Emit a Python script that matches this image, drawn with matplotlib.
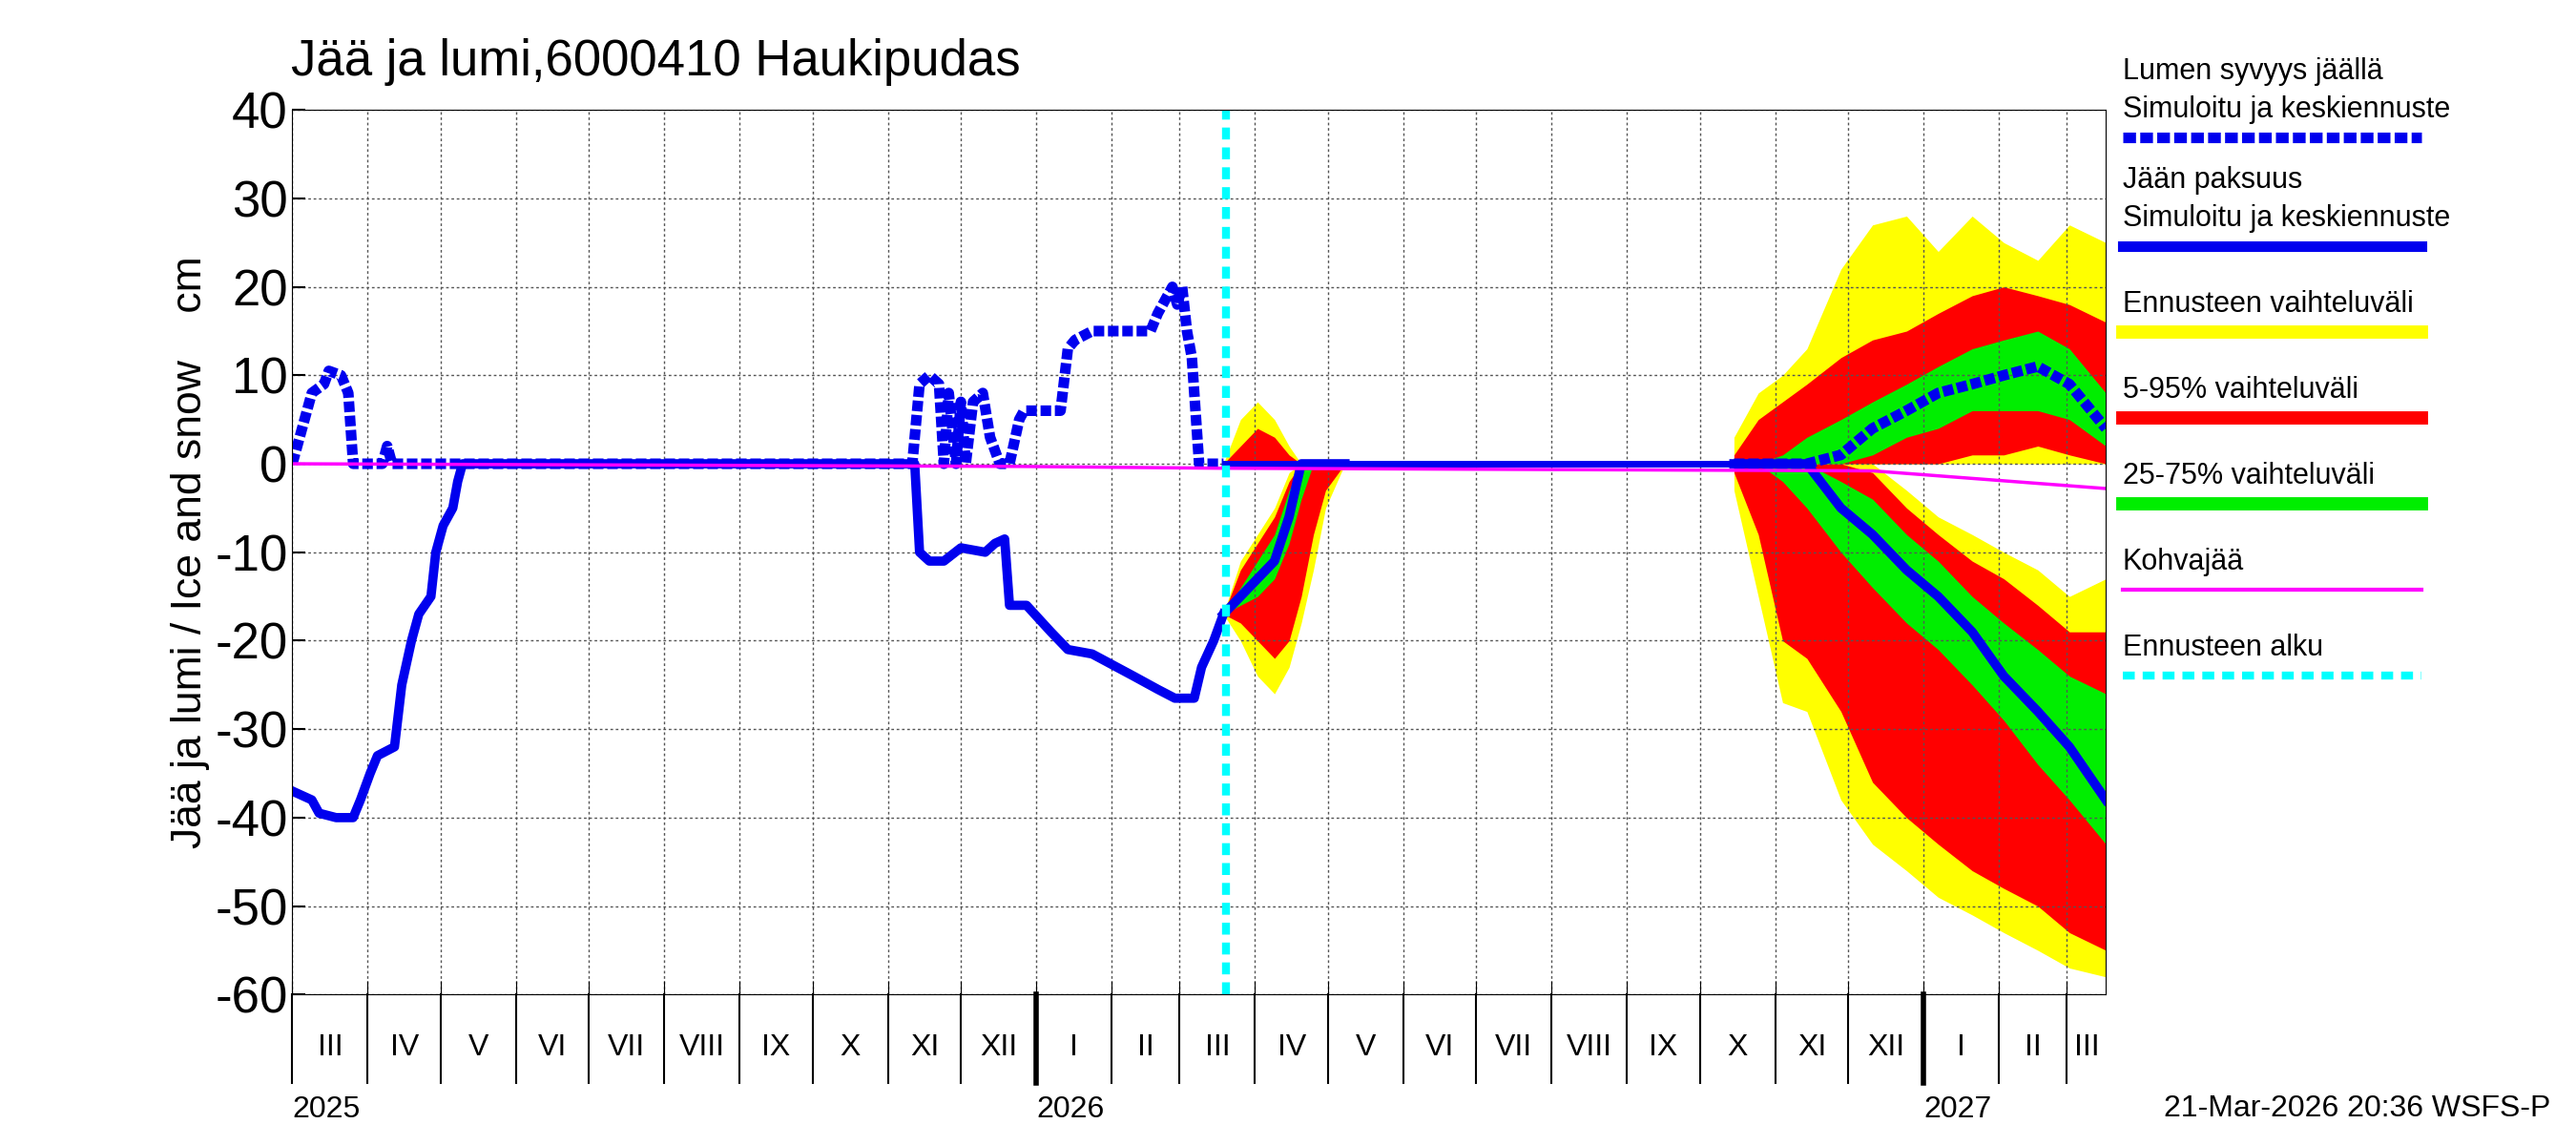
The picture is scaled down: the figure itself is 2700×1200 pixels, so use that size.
import numpy as np
import pandas as pd
import matplotlib
matplotlib.use("Agg")
import matplotlib.pyplot as plt

plt.rcParams['font.family'] = ['Liberation Sans', 'DejaVu Sans']
plt.rcParams['axes.unicode_minus'] = False

start = pd.Timestamp("2025-03-01")
end_day = 746
fc_day = 384

# observed snow on ice (days from 2025-03-01, cm)
snow_d = [0, 5, 8, 13, 15, 20, 23, 25, 37, 39, 41, 255, 258, 262, 266, 268, 270, 273, 275, 277, 280, 284, 287,
          291, 295, 299, 301, 316, 319, 322, 329, 353, 356, 360, 362, 364, 366, 368, 370, 373, 383]
snow_v = [0, 5, 8, 9, 10.5, 10, 8, 0, 0, 2, 0, 0, 9, 10, 9, 0, 8, 0, 7, 0, 7, 8, 3,
          0, 0, 5, 6, 6, 13, 14, 15, 15, 17, 19, 20, 18, 20, 15, 12, 0, 0]
# observed ice thickness (negative)
ice_d = [0, 8, 11, 18, 25, 28, 32, 35, 42, 45, 49, 52, 57, 59, 62, 66, 68, 70, 256, 258, 262, 268, 275, 285,
         289, 293, 295, 302, 312, 319, 329, 346, 356, 363, 371, 374, 379, 383]
ice_v = [-37, -38, -39.5, -40, -40, -38, -35, -33, -32, -25, -20, -17, -15, -10, -7, -5, -2, 0, 0, -10, -11, -11,
         -9.5, -10, -9, -8.5, -16, -16, -19, -21, -21.5, -24, -25.5, -26.5, -26.5, -23, -20, -17]
kohva_d = [0, 300, 380, 650, 746]
kohva_v = [0, -0.3, -0.5, -0.8, -2.8]

# spring 2026 forecast
f1_d = [383, 390, 397, 404, 410, 415, 420, 425, 433]
f1_ylo = [-17, -20, -24, -26, -23, -18, -12, -5, 0]
f1_rlo = [-17, -18, -20, -22, -20, -15, -8, -3, 0]
f1_glo = [-17, -16, -15, -13, -9, -4, 0, 0, 0]
f1_med = [-17, -15, -13, -11, -6, 0, 0, 0, 0]
f1_gup = [-17, -14, -11, -8, -3, 0, 0, 0, 0]
f1_rup = [-17, -12, -9, -6, -2, 0, 0, 0, 0]
f1_yup = [-17, -11, -8, -5, -1, 0, 0, 0, 0]
f1_snow_y = [0, 5, 7, 5, 2, 0, 0, 0, 0]
f1_snow_r = [0, 2, 4, 3, 1, 0, 0, 0, 0]

# winter 2026-2027 forecast
f2_d = [593, 603, 613, 623, 637, 650, 664, 677, 691, 704, 718, 731, 746]
ice_ylo = [-3, -15, -27, -28, -38, -43, -46, -49, -51, -53, -55, -57, -58]
ice_rlo = [-1, -8, -20, -22, -28, -36, -40, -43, -46, -48, -50, -53, -55]
ice_glo = [0, 0, -2, -5, -10, -14, -18, -21, -25, -29, -34, -38, -43]
ice_med = [0, 0, 0, 0, -5, -8, -12, -15, -19, -24, -28, -32, -38]
ice_gup = [0, 0, 0, 0, -2, -4, -8, -11, -15, -18, -21, -24, -26]
ice_rup = [0, 0, 0, 0, 0, -1, -5, -8, -11, -13, -16, -19, -19]
ice_yup = [0, 0, 0, 0, 0, 0, -3, -6, -8, -10, -12, -15, -13]
sn_yup = [3, 8, 10, 13, 22, 27, 28, 24, 28, 25, 23, 27, 25]
sn_rup = [1, 5, 7, 9, 12, 14, 15, 17, 19, 20, 19, 18, 16]
sn_gup = [0, 0, 1, 3, 5, 7, 9, 11, 13, 14, 15, 13, 8]
sn_med = [0, 0, 0, 0, 1, 4, 6, 8, 9, 10, 11, 9, 4]
sn_glo = [0, 0, 0, 0, 0, 1, 3, 4, 6, 6, 6, 5, 2]
sn_rlo = [0, 0, 0, 0, 0, 0, 0, 0, 1, 1, 2, 1, 0]

YEL, RED, GRN, BLU = "#ffff00", "#ff0000", "#00ee00", "#0000ee"

fig = plt.figure(figsize=(27, 12), dpi=100)
ax = fig.add_axes([0.1135, 0.1314, 0.704, 0.7726])

def bands(d, ylo, rlo, glo, gup, rup, yup):
    ax.fill_between(d, ylo, yup, color=YEL, lw=0)
    ax.fill_between(d, rlo, rup, color=RED, lw=0)
    ax.fill_between(d, glo, gup, color=GRN, lw=0)

bands(f1_d, f1_ylo, f1_rlo, f1_glo, f1_gup, f1_rup, f1_yup)
ax.fill_between(f1_d, 0, f1_snow_y, color=YEL, lw=0)
ax.fill_between(f1_d, 0, f1_snow_r, color=RED, lw=0)
bands(f2_d, ice_ylo, ice_rlo, ice_glo, ice_gup, ice_rup, ice_yup)
bands(f2_d, [0] * len(f2_d), sn_rlo, sn_glo, sn_gup, sn_rup, sn_yup)

ax.plot([fc_day, f2_d[0]], [0, 0], color=BLU, lw=5)
ax.plot(ice_d, ice_v, color=BLU, lw=7)
ax.plot(f1_d, f1_med, color=BLU, lw=7)
ax.plot(f2_d, ice_med, color=BLU, lw=7)
ax.plot(snow_d, snow_v, color=BLU, lw=8, ls=(0, (1.0, 0.35)))
ax.plot(f2_d, sn_med, color=BLU, lw=8, ls=(0, (1.0, 0.35)))
ax.plot(kohva_d, kohva_v, color="#ff00ff", lw=2.5)
ax.axvline(fc_day, color="#00ffff", lw=6, ls=(0, (1.5, 1)))

ax.set_xlim(0, end_day)
ax.set_ylim(-60, 40)
ax.set_yticks(range(-60, 41, 10))
ax.tick_params(axis="y", labelsize=38, length=10, width=1.5, direction="in")
ax.set_ylabel("Jää ja lumi / Ice and snow    cm", fontsize=32)

months = pd.date_range(start, start + pd.Timedelta(days=end_day), freq="MS")
mdays = [(m - start).days for m in months]
ax.set_xticks(mdays)
ax.set_xticklabels([])
ax.tick_params(axis="x", length=10, direction="in")
ax.grid(True, color="#555555", ls=(0, (2, 2)), lw=1)
roman = ["I", "II", "III", "IV", "V", "VI", "VII", "VIII", "IX", "X", "XI", "XII"]
trans = ax.get_xaxis_transform()
for m, d in zip(months, mdays):
    nd = min((m + pd.offsets.MonthBegin(1) - start).days, end_day)
    ax.text((d + nd) / 2, -0.06, roman[m.month - 1], transform=trans, ha="center", va="center", fontsize=23)
    ax.plot([d, d], [0, -0.1], transform=trans, color="black", lw=1.5, clip_on=False)
    if m.month == 1:
        ax.plot([d, d], [0, -0.1], transform=trans, color="black", lw=4, clip_on=False)
        ax.text(d, -0.13, str(m.year), transform=trans, ha="left", va="center", fontsize=23)
ax.text(0, -0.13, "2025", transform=trans, ha="left", va="center", fontsize=23)

fig.text(0.113, 0.925, "Jää ja lumi,6000410 Haukipudas", fontsize=38, va="bottom")
fig.text(0.99, 0.025, "21-Mar-2026 20:36 WSFS-P", fontsize=23, ha="right")

lx0, lx1 = 0.824, 0.94
items = [("Lumen syvyys jäällä\nSimuloitu ja keskiennuste", BLU, 8, (0, (1.2, 0.4)), 0.88),
         ("Jään paksuus\nSimuloitu ja keskiennuste", BLU, 8, "-", 0.785),
         ("Ennusteen vaihteluväli", YEL, 10, "-", 0.71),
         ("5-95% vaihteluväli", RED, 10, "-", 0.635),
         ("25-75% vaihteluväli", GRN, 10, "-", 0.56),
         ("Kohvajää", "#ff00ff", 3, "-", 0.485),
         ("Ennusteen alku", "#00ffff", 6, (0, (1.5, 1)), 0.41)]
for txt, c, lw, ls, y in items:
    fig.text(lx0, y + 0.012, txt, fontsize=22, va="bottom", linespacing=1.4)
    fig.add_artist(plt.Line2D([lx0, lx1], [y, y], color=c, lw=lw, ls=ls, transform=fig.transFigure))

fig.savefig("out.png")
